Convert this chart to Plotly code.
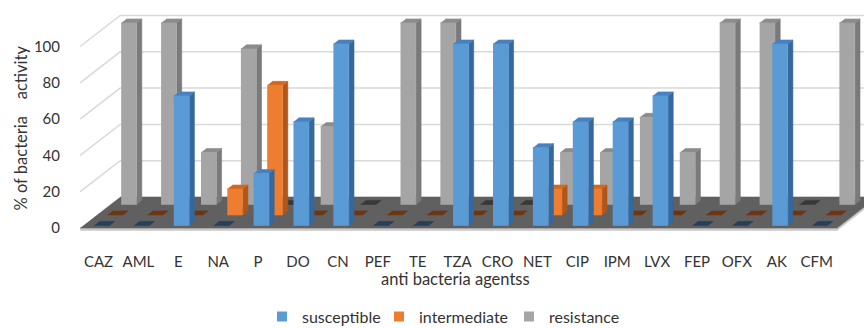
import plotly.graph_objects as go

# ---------------- data ----------------
categories = ["CAZ", "AML", "E", "NA", "P", "DO", "CN", "PEF", "TE", "TZA",
              "CRO", "NET", "CIP", "IPM", "LVX", "FEP", "OFX", "AK", "CFM"]
susceptible = [0, 0, 71.4, 0, 28.6, 57.1, 100, 0, 0, 100,
               100, 42.9, 57.1, 57.1, 71.4, 0, 0, 100, 0]
intermediate = [0, 0, 0, 14.3, 71.4, 0, 0, 0, 0, 0,
                0, 14.3, 14.3, 0, 0, 0, 0, 0, 0]
resistance = [100, 100, 28.6, 85.7, 0, 42.9, 0, 100, 100, 0,
              0, 28.6, 28.6, 48, 28.6, 100, 100, 0, 100]
y_tick_values = [0, 20, 40, 60, 80, 100]
series_names = ["susceptible", "intermediate", "resistance"]

# ---------------- styling / pseudo-3D geometry ----------------
PX_CAT = 39.9            # px per category
PX_VAL = 1.815           # px per value unit
DEPTH_DX = 40 / PX_CAT   # x shift (category units) per unit depth
DEPTH_DY = 31 / PX_VAL   # y shift (value units) per unit depth
ROW_W = {"susceptible": 0.08, "intermediate": 0.42, "resistance": 0.76}
BAR_D = 0.13
HALF_W = 7.7 / PX_CAT
FLOOR_L, FLOOR_R = -0.46, 18.51
FLOOR_T = 2.5 / PX_VAL

STYLE = {
    "susceptible": dict(front="#5B9BD5", side="#35689C", top="#4682C0", zero="#253F5C"),
    "intermediate": dict(front="#ED7D31", side="#B0561A", top="#D2681F", zero="#6E3512"),
    "resistance": dict(front="#A5A5A5", side="#7A7A7A", top="#8C8C8C", zero="#383838"),
}
FONT = "Lato, 'Open Sans', sans-serif"
TEXT_COLOR = "#333333"
LEGEND_TEXT_PX = {"susceptible": 302, "intermediate": 419, "resistance": 549}

# plot area / axis ranges (px layout)
L_M, R_M, T_M, B_M = 78, 0, 6, 86
W, H = 864, 328
X0_PX, V0_PY = 98.5, 228.0
x_range = [(L_M - X0_PX) / PX_CAT, (W - R_M - X0_PX) / PX_CAT]
y_range = [(V0_PY - (H - B_M)) / PX_VAL, (V0_PY - T_M) / PX_VAL]
plot_w, plot_h = W - L_M - R_M, H - T_M - B_M


def px_to_paper_x(px):
    return (px - L_M) / plot_w


def py_to_paper_y(py):
    return ((H - B_M) - py) / plot_h


def proj(u, w, v):
    return u + DEPTH_DX * w, v + DEPTH_DY * w


def poly(xs, ys, pts):
    for p in pts:
        xs.append(p[0]); ys.append(p[1])
    xs.append(None); ys.append(None)


fig = go.Figure()

def add_poly_trace(xs, ys, color, group=None):
    fig.add_trace(go.Scatter(x=xs, y=ys, fill="toself", fillcolor=color, mode="lines",
                             line=dict(width=0.6, color=color), hoverinfo="skip",
                             showlegend=False, legendgroup=group))

# floor
fx, fy = [], []
poly(fx, fy, [proj(FLOOR_L, 0, 0), proj(FLOOR_R, 0, 0), proj(FLOOR_R, 1, 0), proj(FLOOR_L, 1, 0)])
ex, ey = [], []
poly(ex, ey, [proj(FLOOR_L, 0, 0), proj(FLOOR_R, 0, 0), proj(FLOOR_R, 0, -FLOOR_T), proj(FLOOR_L, 0, -FLOOR_T)])
poly(ex, ey, [proj(FLOOR_R, 0, 0), proj(FLOOR_R, 1, 0), proj(FLOOR_R, 1, -FLOOR_T), proj(FLOOR_R, 0, -FLOOR_T)])
add_poly_trace(ex, ey, "#C9C9C9")
add_poly_trace(fx, fy, "#606060")

# wall gridlines
gx, gy = [], []
for v in y_tick_values[1:]:
    a = proj(FLOOR_L, 0, v); b = proj(FLOOR_L, 1, v)
    gx += [a[0], b[0], x_range[1] + 1, None]
    gy += [a[1], b[1], b[1], None]
fig.add_trace(go.Scatter(x=gx, y=gy, mode="lines", line=dict(color="#D9D9D9", width=1.5),
                         hoverinfo="skip", showlegend=False))

data = {"susceptible": susceptible, "intermediate": intermediate, "resistance": resistance}

for name in ["resistance", "intermediate", "susceptible"]:
    vals = data[name]
    wf = ROW_W[name]
    st = STYLE[name]
    frx, fry, sdx, sdy, tpx, tpy, zx, zy = [], [], [], [], [], [], [], []
    for i, v in enumerate(vals):
        l, r = i - HALF_W, i + HALF_W
        if v > 0:
            poly(frx, fry, [proj(l, wf, 0), proj(r, wf, 0), proj(r, wf, v), proj(l, wf, v)])
            poly(sdx, sdy, [proj(r, wf, 0), proj(r, wf + BAR_D, 0), proj(r, wf + BAR_D, v), proj(r, wf, v)])
            poly(tpx, tpy, [proj(l, wf, v), proj(r, wf, v), proj(r, wf + BAR_D, v), proj(l, wf + BAR_D, v)])
        else:
            poly(zx, zy, [proj(l, wf, 0), proj(r, wf, 0), proj(r, wf + BAR_D, 0), proj(l, wf + BAR_D, 0)])
    add_poly_trace(zx, zy, st["zero"], name)
    add_poly_trace(sdx, sdy, st["side"], name)
    add_poly_trace(tpx, tpy, st["top"], name)
    add_poly_trace(frx, fry, st["front"], name)

# legend entries (one small legend per series, placed like the reference)
legend_ids = ["legend", "legend2", "legend3"]
legend_layouts = {}
for name, lid in zip(series_names, legend_ids):
    fig.add_trace(go.Scatter(x=[None], y=[None], mode="markers", name=name, legendgroup=name,
                             legend=lid,
                             marker=dict(symbol="square", size=10, color=STYLE[name]["front"])))
    legend_layouts[lid] = dict(orientation="h", x=px_to_paper_x(LEGEND_TEXT_PX[name] - 40),
                               y=py_to_paper_y(316.5), xanchor="left", yanchor="middle",
                               font=dict(size=16), bgcolor="rgba(0,0,0,0)", borderwidth=0)

fig.update_layout(
    width=W, height=H,
    margin=dict(l=L_M, r=R_M, t=T_M, b=B_M, autoexpand=False),
    paper_bgcolor="white", plot_bgcolor="white",
    font=dict(family=FONT, size=15, color=TEXT_COLOR),
    xaxis=dict(range=x_range, tickmode="array", tickvals=list(range(len(categories))),
               ticktext=categories, showgrid=False, zeroline=False, showline=False,
               ticks="outside", ticklen=6, tickcolor="rgba(0,0,0,0)", fixedrange=True),
    yaxis=dict(range=y_range, tickmode="array", tickvals=y_tick_values,
               showgrid=False, zeroline=False, showline=False,
               ticks="outside", ticklen=14, tickcolor="rgba(0,0,0,0)", fixedrange=True),
    showlegend=True,
    annotations=[
        dict(text="% of bacteria\u00a0\u00a0\u00a0 activity", textangle=-90, xref="paper", yref="paper",
             x=px_to_paper_x(20), y=py_to_paper_y(128.5), showarrow=False,
             xanchor="center", yanchor="middle", font=dict(size=16.5)),
        dict(text="anti bacteria agentss", xref="paper", yref="paper",
             x=px_to_paper_x(455), y=py_to_paper_y(279), showarrow=False,
             xanchor="center", yanchor="middle", font=dict(size=16.5)),
    ],
)
fig.update_layout(**legend_layouts)

fig.write_html("out.html", config={"displayModeBar": False},
               post_script="document.body.style.margin='0';"
                           "document.documentElement.style.overflow='hidden';")
